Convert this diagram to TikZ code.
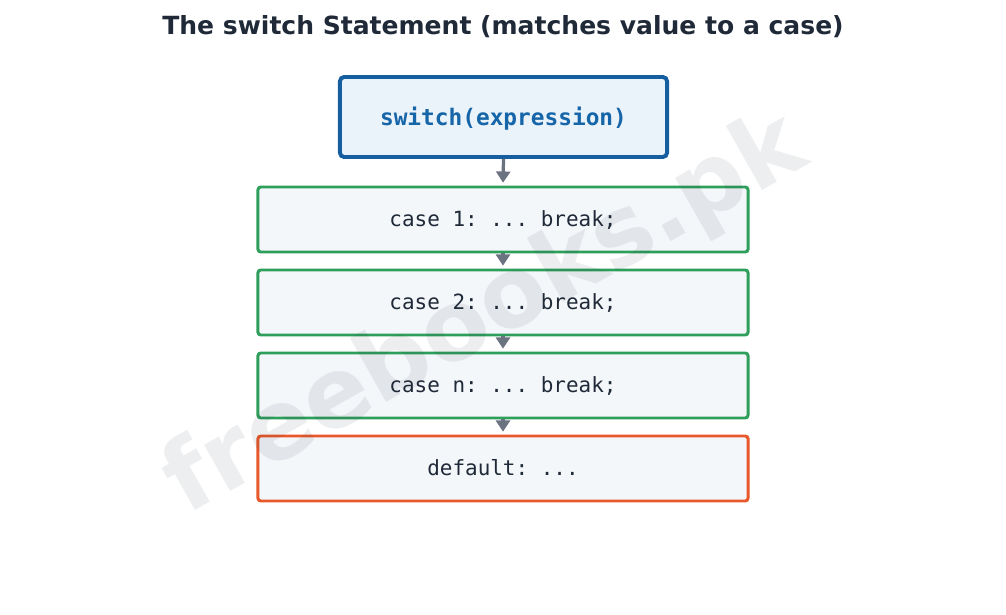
\documentclass[tikz,border=0pt]{standalone}
\usepackage{fontspec}
\setmainfont{DejaVu Sans}
\setmonofont{DejaVu Sans Mono}
\usetikzlibrary{arrows.meta}

\definecolor{titletext}{HTML}{1F2937}
\definecolor{switchline}{HTML}{155EA0}
\definecolor{switchfill}{HTML}{EAF2FA}
\definecolor{switchtext}{HTML}{1565A8}
\definecolor{caseline}{HTML}{2E9E5B}
\definecolor{defaultline}{HTML}{E8582A}
\definecolor{boxfill}{HTML}{F3F7FA}
\definecolor{flowgray}{HTML}{6B7280}

\tikzset{
  casebox/.style={draw=caseline, line width=2.1pt, fill=boxfill, rounded corners=2pt,
    minimum width=12.25cm, minimum height=1.625cm, font=\ttfamily\fontsize{14.9}{17}\selectfont,
    text=titletext, text depth=1pt},
  flow/.style={draw=flowgray, line width=2.3pt, -{Triangle[width=10pt,length=8pt]}}
}

\begin{document}
\begin{tikzpicture}[x=0.025cm, y=0.025cm]
  \useasboundingbox (0,0) rectangle (1006,-615);                 % page frame
  \node[font=\bfseries\fontsize{17.8}{21}\selectfont, text=titletext] (title) at (503,-27)
    {The switch Statement (matches value to a case)};

  \node[draw=switchline, line width=2.8pt, fill=switchfill, rounded corners=3pt,
    minimum width=8.175cm, minimum height=2cm, text=switchtext, text depth=1pt,
    font=\ttfamily\bfseries\fontsize{16.2}{19}\selectfont] (switch) at (503.5,-117) {switch(expression)};

  \node[casebox] (case1) at (503,-219.5) {case 1: ... break;};
  \node[casebox] (case2) at (503,-302.5) {case 2: ... break;};
  \node[casebox] (casen) at (503,-385.5) {case n: ... break;};
  \node[casebox, draw=defaultline] (default) at (503,-468.5) {default: ...};

  \draw[flow] (switch.south) -- ([yshift=2pt]case1.north);
  \draw[flow] (case1.south) -- ([yshift=2pt]case2.north);
  \draw[flow] (case2.south) -- ([yshift=2pt]casen.north);
  \draw[flow] (casen.south) -- ([yshift=2pt]default.north);

  % watermark
  \node[rotate=29.5, text=titletext, opacity=0.08, font=\bfseries\fontsize{69}{80}\selectfont]
    (mark) at (486,-316) {freebooks.pk};
\end{tikzpicture}
\end{document}
